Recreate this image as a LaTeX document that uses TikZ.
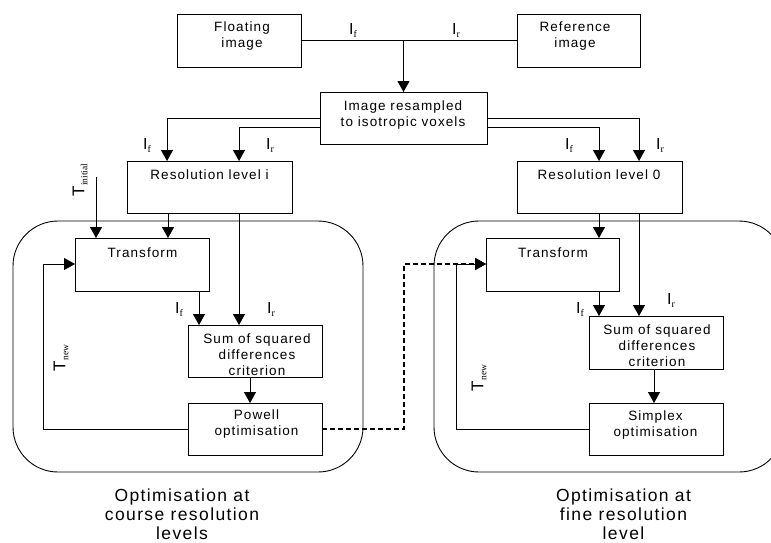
\documentclass[tikz,border=0pt]{standalone}
\usepackage{fontspec}
\setmainfont{Liberation Sans}
\newfontfamily\bxf{Liberation Sans}[LetterSpace=8]
\newfontfamily\subf{Liberation Serif}
\usetikzlibrary{arrows.meta,calc}
\newcommand{\Isub}[1]{{\fontsize{16}{16}\selectfont I}\raisebox{-3pt}{\subf\fontsize{10}{10}\selectfont #1}}
\newcommand{\Tsub}[1]{{\fontsize{17}{17}\selectfont T}\raisebox{-3pt}{\subf\fontsize{9.5}{9.5}\selectfont #1}}
\tikzset{
  box/.style={draw, line width=0.9pt, anchor=north west, inner sep=0pt, outer sep=0pt},
  btxt/.style={font=\bxf\fontsize{13.5}{16}\selectfont, align=center, inner sep=0pt},
  captxt/.style={font=\bxf\fontsize{17.5}{19}\selectfont, align=center, inner sep=0pt},
  lbl/.style={inner sep=0pt},
  arr/.style={line width=0.9pt, -{Triangle[width=12pt,length=11pt]}},
  ln/.style={line width=0.9pt},
  cont/.style={draw, line width=0.9pt, rounded corners=45pt, anchor=north west, inner sep=0pt, outer sep=0pt}
}
\begin{document}
\begin{tikzpicture}[x=1pt,y=-1pt]
\useasboundingbox (0,0) rectangle (771,542);
\clip (0,0) rectangle (771,542);
\fill[white] (0,0) rectangle (771,542);

% containers
\node[cont, minimum width=350pt, minimum height=251pt] (contL) at (13,221) {};
\node[cont, minimum width=350pt, minimum height=251pt] (contR) at (434,221) {};

% boxes
\node[box, minimum width=124pt, minimum height=53pt] (float) at (177,14) {};
\node[box, minimum width=123pt, minimum height=53pt] (ref) at (517,14) {};
\node[box, minimum width=167pt, minimum height=52pt] (resamp) at (320,92) {};
\node[box, minimum width=165pt, minimum height=52pt] (resI) at (127,161) {};
\node[box, minimum width=165pt, minimum height=52pt] (res0) at (517,161) {};
\node[box, minimum width=134pt, minimum height=53pt] (trL) at (75,238) {};
\node[box, minimum width=134pt, minimum height=52pt] (ssdL) at (188,325) {};
\node[box, minimum width=134pt, minimum height=52pt] (powL) at (188,403) {};
\node[box, minimum width=133pt, minimum height=53pt] (trR) at (486,238) {};
\node[box, minimum width=134pt, minimum height=53pt] (ssdR) at (589,316) {};
\node[box, minimum width=134pt, minimum height=52pt] (simR) at (589,403) {};

% box texts
\node[btxt] (tfloat) at (242,36.5) {Floating\\image};
\node[btxt] (tref) at (575,36.5) {Reference\\image};
\node[btxt] (tresamp) at (403,115) {Image resampled\\to isotropic voxels};
\node[btxt] (tresI) at (209.5,175) {Resolution level i};
\node[btxt] (tres0) at (599,175) {Resolution level 0};
\node[btxt] (ttrL) at (142.5,253) {Transform};
\node[btxt] (ttrR) at (553,253) {Transform};
\node[btxt] (tssdL) at (257,355) {Sum of squared\\differences\\criterion};
\node[btxt] (tpowL) at (256.5,423.5) {Powell\\optimisation};
\node[btxt] (tssdR) at (657,346) {Sum of squared\\differences\\criterion};
\node[btxt] (tsimR) at (655.5,424.5) {Simplex\\optimisation};

% captions
\node[captxt] (capL) at (182,514) {Optimisation at\\course resolution\\levels};
\node[captxt] (capR) at (623.5,514) {Optimisation at\\fine resolution\\level};

% top connectors
\draw[ln] (float.east) -- (ref.west);
\coordinate (j) at (403.5,40);
\draw[arr] (j) -- (j |- resamp.north);
\node[lbl] (lf0) at (353,30) {\Isub{f}};
\node[lbl] (lr0) at (456,30) {\Isub{r}};

% resamp to resolution levels
\draw[arr] ([yshift=-26pt]resamp.north west) -| ([xshift=40pt]resI.north west);
\draw[arr] ([yshift=-35pt]resamp.north west) -| ([xshift=112pt]resI.north west);
\draw[arr] ([yshift=-26pt]resamp.north east) -| ([xshift=122pt]res0.north west);
\draw[arr] ([yshift=-35pt]resamp.north east) -| ([xshift=82pt]res0.north west);
\node[lbl] (lf1) at (147,145) {\Isub{f}};
\node[lbl] (lr1) at (270,145) {\Isub{r}};
\node[lbl] (lf2) at (569,145) {\Isub{f}};
\node[lbl] (lr2) at (660,145) {\Isub{r}};

% left loop
\coordinate (tinit) at (96,177);
\draw[arr] (tinit) -- (tinit |- trL.north);
\node[lbl, rotate=90] (ltinit) at (80,180) {\Tsub{initial}};
\path ([xshift=41pt]resI.south west) coordinate (rIa);
\path ([xshift=112pt]resI.south west) coordinate (rIb);
\draw[arr] (rIa) -- (rIa |- trL.north);
\draw[arr] (rIb) -- (rIb |- ssdL.north);
\path ([xshift=11pt]ssdL.north west) coordinate (sLa);
\draw[arr] (sLa |- trL.south) -- (sLa);
\node[lbl] (lf3) at (179,309) {\Isub{f}};
\node[lbl] (lr3) at (271,309) {\Isub{r}};
\path ([xshift=62pt]ssdL.south west) coordinate (sLb);
\draw[arr] (sLb) -- (sLb |- powL.north);
\coordinate (fbL) at (43,264);
\draw[arr] (powL.west) -| (fbL) -- (fbL -| trL.west);
\node[lbl, rotate=90] (ltnewL) at (61,358) {\Tsub{new}};

% dashed link
\coordinate (dsh) at (404,264);
\draw[arr, line width=1.3pt, dash pattern=on 5pt off 3pt] (powL.east) -| (dsh) -- (dsh -| trR.west);

% right loop
\path ([xshift=82pt]res0.south west) coordinate (r0a);
\path ([xshift=122pt]res0.south west) coordinate (r0b);
\draw[arr] (r0a) -- (r0a |- trR.north);
\draw[arr] (r0b) -- (r0b |- ssdR.north);
\path ([xshift=10pt]ssdR.north west) coordinate (sRa);
\draw[arr] (sRa |- trR.south) -- (sRa);
\node[lbl] (lf4) at (580,309) {\Isub{f}};
\node[lbl] (lr4) at (671,300) {\Isub{r}};
\path ([xshift=65pt]ssdR.south west) coordinate (sRb);
\draw[arr] (sRb) -- (sRb |- simR.north);
\coordinate (fbR) at (456,264);
\draw[arr] (simR.west) -| (fbR) -- (fbR -| trR.west);
\node[lbl, rotate=90] (ltnewR) at (479,378) {\Tsub{new}};
\end{tikzpicture}
\end{document}
